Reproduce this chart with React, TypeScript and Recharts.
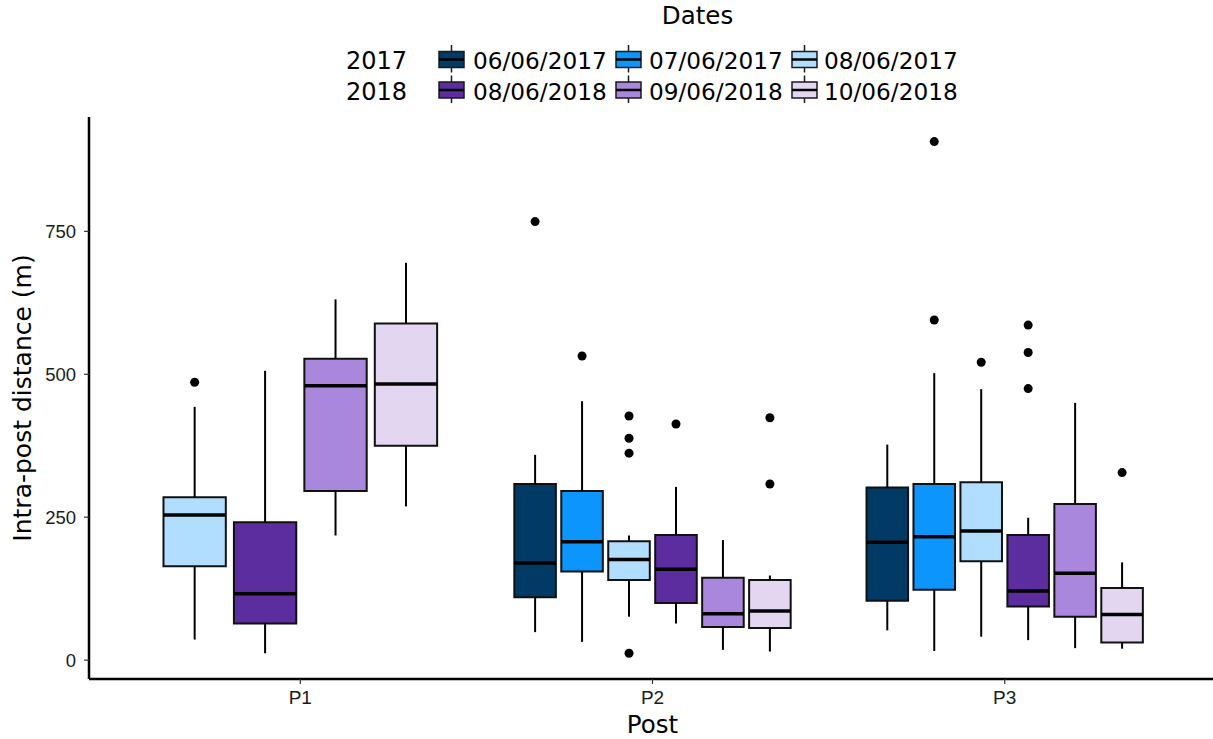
import { ComposedChart, XAxis, YAxis, ReferenceArea, ReferenceLine, Scatter } from "recharts"

const POSTS = ["P1", "P2", "P3"]
const YEARS = ["2017", "2018"]
const DATES = ["06/06/2017", "07/06/2017", "08/06/2017", "08/06/2018", "09/06/2018", "10/06/2018"]
const COLORS = ["#023a66", "#0b95fd", "#b1ddff", "#5b2d9f", "#a887dc", "#e3d6f1"]

// which dates were sampled at each post (index into DATES)
const P1_DATES = [2, 3, 4, 5]
const P2_DATES = [0, 1, 2, 3, 4, 5]
const P3_DATES = [0, 1, 2, 3, 4, 5]

// [lower whisker, q1, median, q3, upper whisker]
const P1_STATS = [
  [36, 164, 254, 285, 443],
  [12, 64, 116, 241, 506],
  [218, 296, 480, 527, 631],
  [269, 375, 483, 589, 695],
]
const P2_STATS = [
  [49, 110, 170, 308, 359],
  [32, 155, 207, 296, 453],
  [76, 140, 176, 208, 218],
  [64, 100, 159, 219, 303],
  [18, 58, 81, 144, 210],
  [15, 56, 86, 140, 148],
]
const P3_STATS = [
  [52, 104, 206, 302, 377],
  [16, 123, 216, 308, 502],
  [41, 173, 226, 311, 474],
  [35, 94, 121, 219, 249],
  [21, 76, 152, 273, 450],
  [20, 31, 80, 126, 171],
]

const P1_OUTLIERS = [[486], [], [], []]
const P2_OUTLIERS = [[767], [532], [427, 388, 362, 12], [413], [], [424, 308]]
const P3_OUTLIERS = [[], [907, 595], [521], [586, 538, 475], [], [328]]

const Y_TICKS = [0, 250, 500, 750]

const GROUPS = [
  { dates: P1_DATES, stats: P1_STATS, outliers: P1_OUTLIERS },
  { dates: P2_DATES, stats: P2_STATS, outliers: P2_OUTLIERS },
  { dates: P3_DATES, stats: P3_STATS, outliers: P3_OUTLIERS },
]

// dodge like ggplot: 0.8 wide per post, boxes take ~88% of their slot
const boxes = GROUPS.flatMap((g, gi) =>
  g.dates.map((d, k) => {
    const slot = 0.8 / g.dates.length
    const center = gi + 1 - 0.4 + slot * (k + 0.5)
    const half = (slot * 0.885) / 2
    const [lo, q1, med, q3, hi] = g.stats[k]
    return { id: `${gi}-${k}`, color: COLORS[d], center, half, lo, q1, med, q3, hi, outliers: g.outliers[k] }
  })
)

const outlierPoints = boxes.flatMap((b) => b.outliers.map((v) => ({ x: b.center, y: v })))

const SANS = "'DejaVu Sans', sans-serif"
const ARIAL = "'Liberation Sans', Arial, sans-serif"

const XTick = (props: any) => (
  <text x={props.x} y={props.y} dy="0.72em" textAnchor="middle" fontSize={19} fontFamily={ARIAL} fill="#1a1a1a">
    {POSTS[props.payload.value - 1]}
  </text>
)

const YTick = (props: any) => (
  <text x={props.x} y={props.y} dy="0.36em" textAnchor="end" fontSize={18.5} fontFamily={ARIAL} fill="#1a1a1a">
    {props.payload.value}
  </text>
)

function DatesLegend() {
  const keyLeft = [439, 616, 792]
  const textLeft = [473, 649, 824]
  return (
    <svg width={1213} height={110} style={{ position: "absolute", left: 0, top: 0 }} fontFamily={SANS}>
      <text x={697.5} y={24} textAnchor="middle" fontSize={24.5} fill="#000">
        Dates
      </text>
      {YEARS.map((year, r) => {
        const base = 69 + r * 30.5
        return (
          <g key={year}>
            <text x={346} y={base} fontSize={24} fill="#000">
              {year}
            </text>
            {DATES.slice(r * 3, r * 3 + 3).map((d, c) => {
              const kx = keyLeft[c]
              const top = base - 17.5
              return (
                <g key={d}>
                  <line x1={kx + 12.5} y1={top - 6.5} x2={kx + 12.5} y2={top + 21} stroke="#1a1a1a" strokeWidth={1.5} />
                  <rect x={kx} y={top} width={25} height={16} fill={COLORS[r * 3 + c]} stroke="#1a1a1a" strokeWidth={1.5} />
                  <line x1={kx} y1={top + 8} x2={kx + 25} y2={top + 8} stroke="#000" strokeWidth={2.5} />
                  <text x={textLeft[c]} y={base} fontSize={23.2} fill="#000">
                    {d}
                  </text>
                </g>
              )
            })}
          </g>
        )
      })}
    </svg>
  )
}

export default function App() {
  return (
    <div style={{ position: "fixed", left: 0, top: 0, width: 1213, height: 739, overflow: "hidden", background: "#fff" }}>
      <ComposedChart width={1220} height={739} margin={{ top: 117, right: 4, bottom: 30, left: 0 }}>
        <XAxis
          dataKey="x"
          type="number"
          domain={[0.4, 3.6]}
          ticks={[1, 2, 3]}
          height={30}
          axisLine={{ stroke: "#000", strokeWidth: 2.5 }}
          tickLine={{ stroke: "#333", strokeWidth: 1.2 }}
          tickSize={5}
          tickMargin={6}
          tick={<XTick />}
          allowDataOverflow
          label={{ value: "Post", position: "insideBottom", offset: -24, fontSize: 24.5, fill: "#000", fontFamily: SANS }}
        />
        <YAxis
          type="number"
          domain={[-33, 950]}
          ticks={Y_TICKS}
          width={89}
          axisLine={{ stroke: "#000", strokeWidth: 2.5 }}
          tickLine={{ stroke: "#333", strokeWidth: 1.2 }}
          tickSize={5}
          tickMargin={8}
          tick={<YTick />}
          allowDataOverflow
          label={{
            value: "Intra-post distance (m)",
            angle: -90,
            position: "insideLeft",
            offset: 22,
            style: { textAnchor: "middle" },
            fontSize: 25,
            fill: "#000",
            fontFamily: SANS,
          }}
        />
        {boxes.map((b) => (
          <ReferenceLine
            key={`wu-${b.id}`}
            segment={[{ x: b.center, y: b.q3 }, { x: b.center, y: b.hi }]}
            stroke="#000"
            strokeWidth={2}
          />
        ))}
        {boxes.map((b) => (
          <ReferenceLine
            key={`wl-${b.id}`}
            segment={[{ x: b.center, y: b.lo }, { x: b.center, y: b.q1 }]}
            stroke="#000"
            strokeWidth={2}
          />
        ))}
        {boxes.map((b) => (
          <ReferenceArea
            key={`box-${b.id}`}
            x1={b.center - b.half}
            x2={b.center + b.half}
            y1={b.q1}
            y2={b.q3}
            fill={b.color}
            fillOpacity={1}
            stroke="#111"
            strokeWidth={2}
          />
        ))}
        {boxes.map((b) => (
          <ReferenceLine
            key={`med-${b.id}`}
            segment={[{ x: b.center - b.half, y: b.med }, { x: b.center + b.half, y: b.med }]}
            stroke="#000"
            strokeWidth={3.5}
          />
        ))}
        <Scatter
          data={outlierPoints}
          dataKey="y"
          isAnimationActive={false}
          shape={(p: any) => <circle cx={p.cx} cy={p.cy} r={4.5} fill="#000" />}
        />
      </ComposedChart>
      <DatesLegend />
    </div>
  )
}
